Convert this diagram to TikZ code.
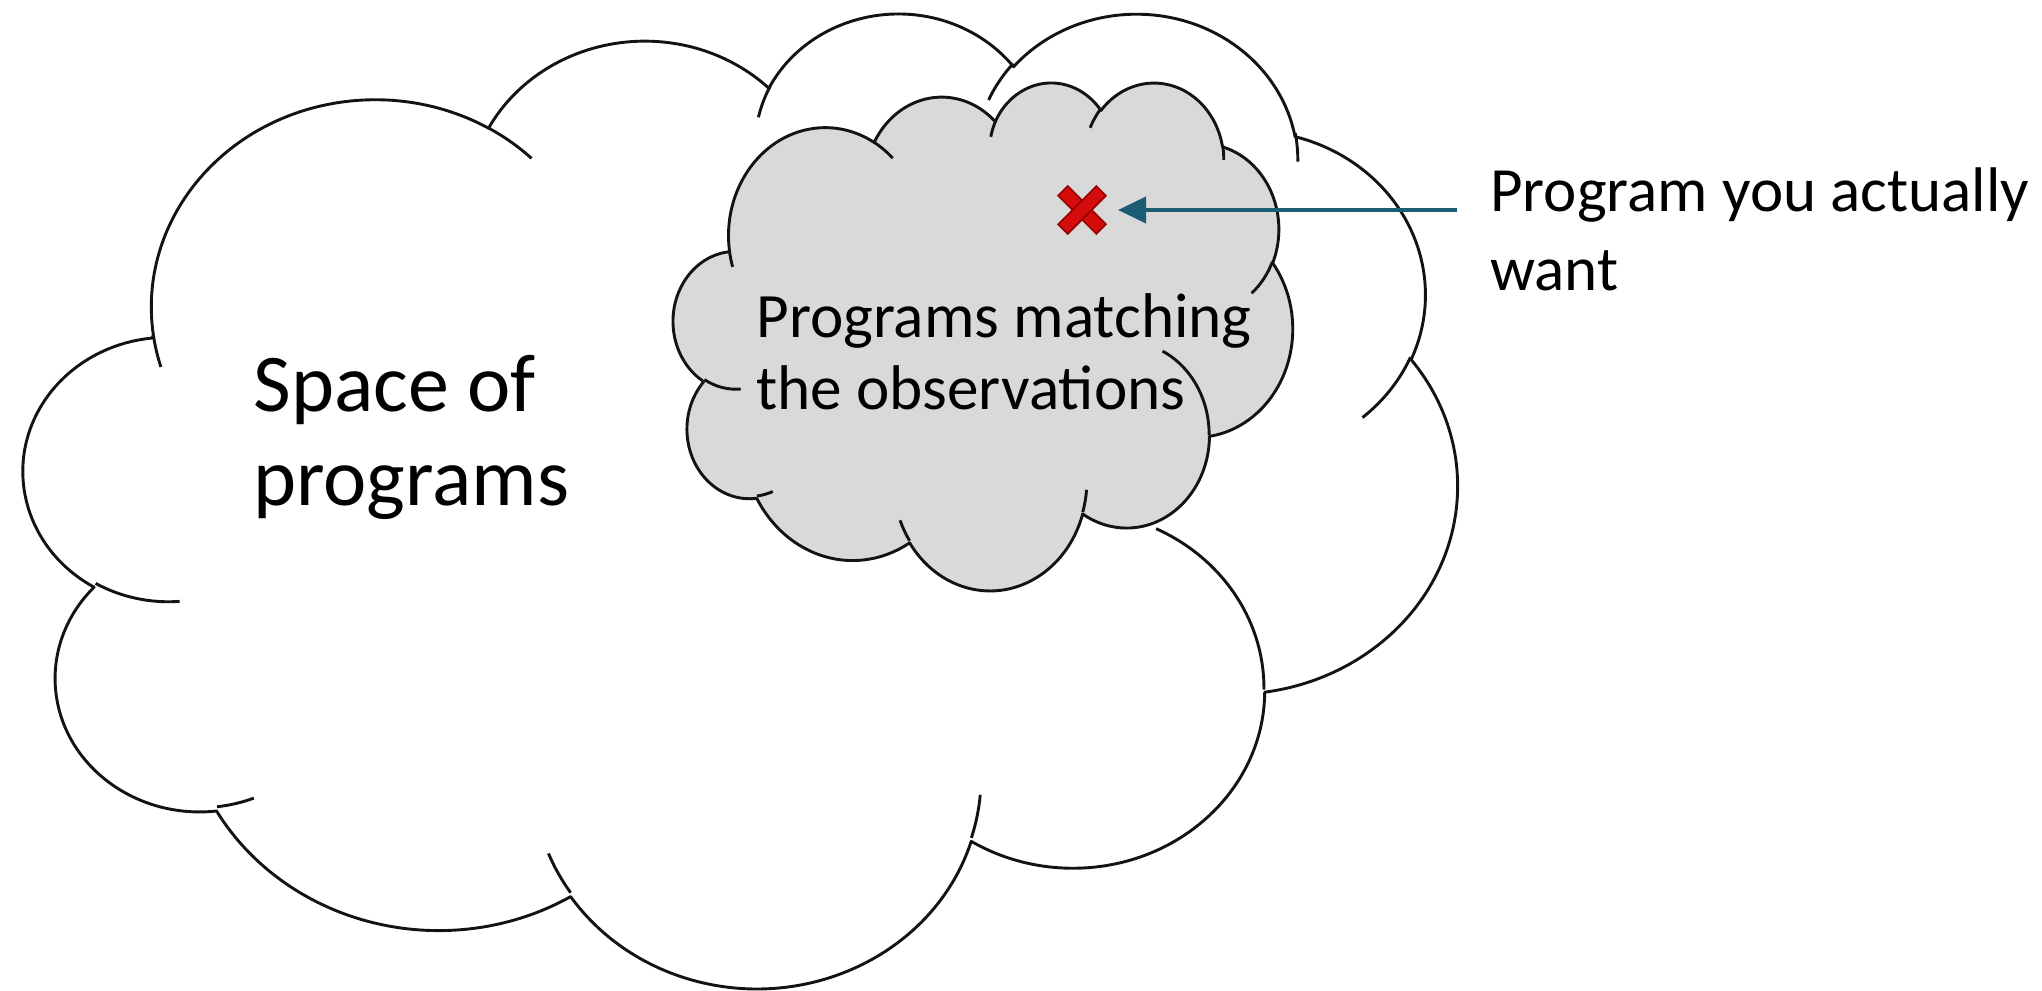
\documentclass[tikz,border=0pt]{standalone}
\usepackage{fontspec}
\setmainfont{Carlito}
\usetikzlibrary{arrows.meta}

\definecolor{outline}{RGB}{16,20,18}
\definecolor{subsetgray}{RGB}{217,217,217}
\definecolor{pointerblue}{RGB}{28,93,117}
\definecolor{crossred}{RGB}{212,12,12}
\definecolor{crossdark}{RGB}{150,0,0}

% Cloud callout outline, given in a 43200 x 43200 frame that is
% stretched onto a box (x, y, width, height) in picture units (y down).
\newcommand\setcloudbox[4]{\def\cloudX{#1}\def\cloudY{#2}\def\cloudW{#3}\def\cloudH{#4}}
\newcommand\cloudmove[2]{%
  \edef\cmx{\fpeval{round((\cloudX+(#1)/43200*\cloudW)*0.5,4)}}%
  \edef\cmy{\fpeval{round(-(\cloudY+(#2)/43200*\cloudH)*0.5,4)}}%
  \pgfpathmoveto{\pgfpoint{\cmx pt}{\cmy pt}}}
% elliptical arc: radii wR, hR; start and sweep as ray angles (degrees, y down)
\newcommand\cloudarc[4]{%
  \edef\ctA{\fpeval{atand((#1)*sind(#3),(#2)*cosd(#3))}}%
  \edef\ctB{\fpeval{atand((#1)*sind((#3)+(#4)),(#2)*cosd((#3)+(#4)))}}%
  \edef\ctD{\fpeval{(\ctB)-(\ctA)}}%
  \edef\ctD{\fpeval{((#4)>0 && (\ctD)<0) ? (\ctD)+360 : (((#4)<0 && (\ctD)>0) ? (\ctD)-360 : (\ctD))}}%
  \edef\crx{\fpeval{round((#1)/43200*\cloudW*0.5,4)}}%
  \edef\cry{\fpeval{round((#2)/43200*\cloudH*0.5,4)}}%
  \edef\cS{\fpeval{round(-(\ctA),4)}}%
  \edef\cE{\fpeval{round(-(\ctA)-(\ctD),4)}}%
  \pgfpatharc{\cS}{\cE}{\crx pt and \cry pt}}
\newcommand\cloudbody{%
  \cloudmove{3900}{14370}%
  \cloudarc{6753}{9190}{-190.487483}{123.780533}%
  \cloudarc{5333}{7267}{-144.102383}{89.945233}%
  \cloudarc{4365}{5945}{-145.807917}{99.723017}%
  \cloudarc{4857}{6595}{-130.986067}{117.241733}%
  \cloudarc{5333}{7273}{-78.708883}{109.026917}%
  \cloudarc{6775}{9220}{-46.26725}{130.269}%
  \cloudarc{5785}{7867}{0.625017}{114.033333}%
  \cloudarc{6752}{9215}{22.4516}{115.17255}%
  \cloudarc{7720}{10543}{66.242633}{75.711017}%
  \cloudarc{4360}{5918}{-274.942083}{146.735567}%
  \cloudarc{4345}{5945}{-246.8285}{152.51885}%
  \pgfpathclose}
\newcommand\cloudfolds{%
  \cloudmove{4693}{26177}\cloudarc{4345}{5945}{86.742}{26.4295}%
  \cloudmove{6928}{34899}\cloudarc{4360}{5918}{73.61047}{11.44747}%
  \cloudmove{16478}{39090}\cloudarc{6752}{9215}{137.62415}{14.0811}%
  \cloudmove{28827}{34751}\cloudarc{6752}{9215}{6.45327}{15.99835}%
  \cloudmove{34129}{22954}\cloudarc{5785}{7867}{-70.29235}{70.91737}%
  \cloudmove{41798}{15354}\cloudarc{5333}{7273}{30.31803}{27.7515}%
  \cloudmove{38324}{5426}\cloudarc{4857}{6595}{-13.74433}{14.8589}%
  \cloudmove{29078}{3952}\cloudarc{4857}{6595}{-149.18145}{18.19537}%
  \cloudmove{22141}{4720}\cloudarc{4365}{5945}{-163.49427}{17.68635}%
  \cloudmove{14000}{5192}\cloudarc{6753}{9190}{-66.70695}{12.31935}%
  \cloudmove{4127}{15789}\cloudarc{6753}{9190}{157.65435}{11.85817}}

\begin{document}
\begin{tikzpicture}[x=0.5pt, y=-0.5pt,
  cloudedge/.style={draw=outline, line width=1.45pt, line join=round, line cap=butt},
  caption/.style={anchor=base west, inner sep=0pt, text=black},
  crossarm/.style={rectangle, draw=crossdark, fill=crossred, line width=0.8pt,
    minimum width=27pt, minimum height=6.8pt, inner sep=0pt},
  pointer/.style={draw=pointerblue, line width=2pt,
    -{Triangle[length=14pt, width=13pt]}}]
\useasboundingbox[fill=white] (0,0) rectangle (2042,991);

% space of all programs
\setcloudbox{24}{10.8}{1433}{974.6}
\path[cloudedge, fill=white] \pgfextra{\cloudbody};
\path[cloudedge] \pgfextra{\cloudfolds};

% programs consistent with the observations
\setcloudbox{673.5}{81.3}{619}{507.8}
\path[cloudedge, fill=subsetgray] \pgfextra{\cloudbody};
\path[cloudedge] \pgfextra{\cloudfolds};

\node[caption, font=\fontsize{41}{47}\selectfont] (space) at (253,411)
  {\vtop{\hbox{Space of}\hbox{programs}}};
\node[caption, font=\fontsize{31.6}{36}\selectfont] (matching) at (756,337)
  {\vtop{\hbox{Programs matching}\hbox{the observations}}};
\node[caption, font=\fontsize{31.5}{39.8}\selectfont] (wanted) at (1490,211)
  {\vtop{\hbox{Program you actually}\hbox{want}}};

% the intended program
\node[crossarm, rotate=-45] (crossback) at (1082,210) {};
\node[crossarm, rotate=45] (crossfront) at (1082,210) {};

\coordinate (tail) at (1457,210);
\draw[pointer] (tail) -- ([xshift=18pt]crossfront.center);
\end{tikzpicture}
\end{document}
